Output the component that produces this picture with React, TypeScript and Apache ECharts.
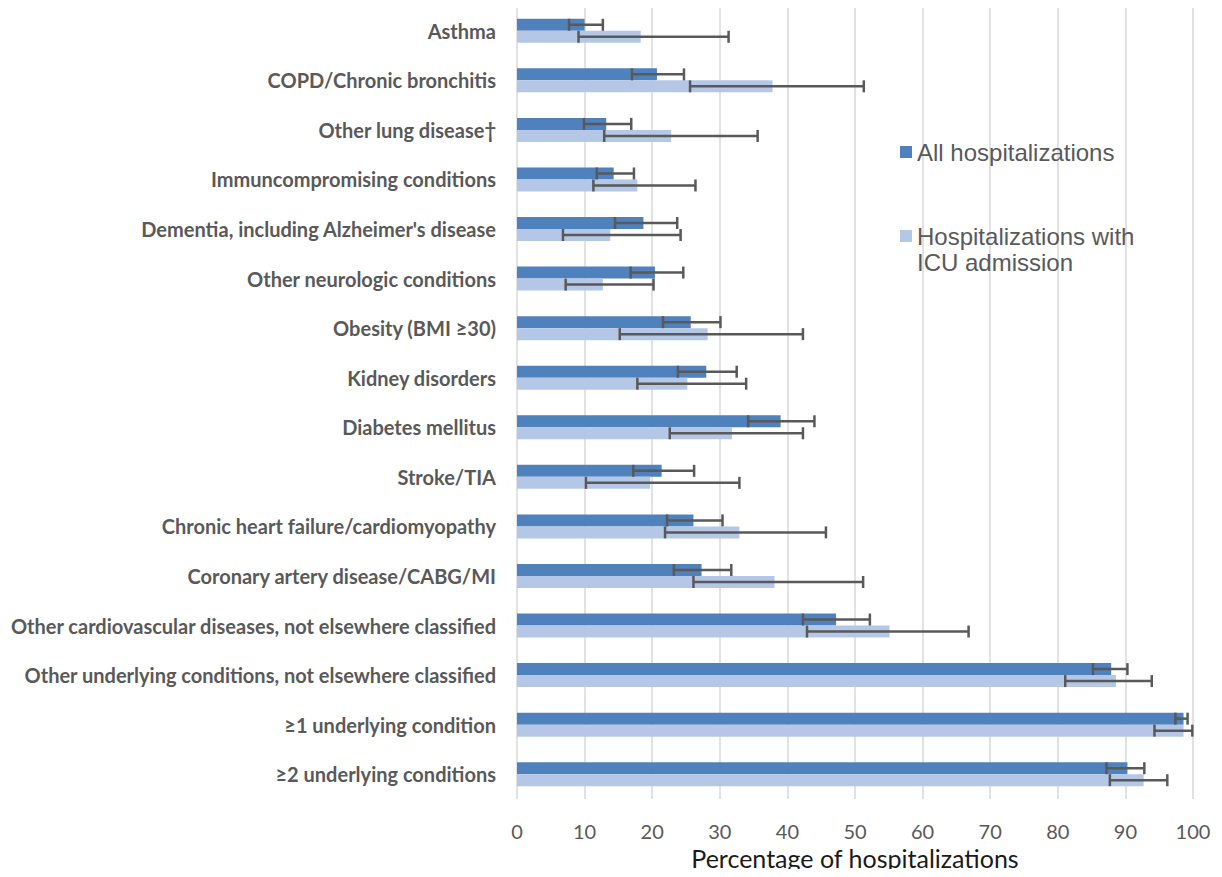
import React, { useEffect, useRef } from "react";
import * as echarts from "echarts";

const categories = [
  "Asthma",
  "COPD/Chronic bronchitis",
  "Other lung disease†",
  "Immuncompromising conditions",
  "Dementia, including Alzheimer's disease",
  "Other neurologic conditions",
  "Obesity (BMI ≥30)",
  "Kidney disorders",
  "Diabetes mellitus",
  "Stroke/TIA",
  "Chronic heart failure/cardiomyopathy",
  "Coronary artery disease/CABG/MI",
  "Other cardiovascular diseases, not elsewhere classified",
  "Other underlying conditions, not elsewhere classified",
  "≥1 underlying condition",
  "≥2 underlying conditions",
];

const allHosp = [10.0, 20.7, 13.2, 14.3, 18.7, 20.4, 25.7, 28.0, 39.0, 21.4, 26.1, 27.3, 47.2, 87.9, 98.6, 90.3];
const allLow = [7.7, 17.0, 9.9, 11.8, 14.5, 16.8, 21.6, 23.8, 34.2, 17.2, 22.2, 23.2, 42.3, 85.2, 97.4, 87.2];
const allHigh = [12.7, 24.7, 16.9, 17.3, 23.7, 24.6, 30.1, 32.5, 44.0, 26.2, 30.4, 31.7, 52.2, 90.3, 99.2, 92.8];

const icuHosp = [18.3, 37.8, 22.8, 17.8, 13.8, 12.7, 28.2, 25.2, 31.8, 19.7, 32.9, 38.1, 55.1, 88.6, 98.6, 92.7];
const icuLow = [9.1, 25.6, 12.9, 11.3, 6.8, 7.2, 15.2, 17.8, 22.6, 10.2, 21.9, 26.1, 42.9, 81.1, 94.3, 87.7];
const icuHigh = [31.3, 51.3, 35.6, 26.4, 24.2, 20.2, 42.3, 33.9, 42.3, 32.9, 45.7, 51.2, 66.8, 93.9, 99.9, 96.2];

const xTicks = [0, 10, 20, 30, 40, 50, 60, 70, 80, 90, 100];

const seriesNames = ["All hospitalizations", "Hospitalizations with ICU admission"];

const BAR_W = 12;
const ERR_COLOR = "#595959";

function errorSeries(low: number[], high: number[], offset: number) {
  return {
    type: "custom",
    silent: true,
    z: 10,
    encode: { x: [1, 2], y: 0 },
    data: low.map((l, i) => [i, l, high[i]]),
    renderItem: (params: any, api: any) => {
      const idx = api.value(0);
      const a = api.coord([api.value(1), idx]);
      const b = api.coord([api.value(2), idx]);
      const y = a[1] + offset;
      const h = BAR_W / 2;
      const style = { stroke: ERR_COLOR, lineWidth: 2.5 };
      return {
        type: "group",
        children: [
          { type: "line", shape: { x1: a[0], y1: y, x2: b[0], y2: y }, style },
          { type: "line", shape: { x1: a[0], y1: y - h, x2: a[0], y2: y + h }, style },
          { type: "line", shape: { x1: b[0], y1: y - h, x2: b[0], y2: y + h }, style },
        ],
      };
    },
  };
}

const legendText = {
  fontFamily: "Liberation Sans, Arial",
  fontSize: 24,
  color: "#595959",
  lineHeight: 26,
};

export default function App() {
  const ref = useRef<HTMLDivElement>(null);
  useEffect(() => {
    if (!ref.current) return;
    const chart = echarts.init(ref.current, undefined, { renderer: "svg" });
    chart.setOption({
      animation: false,
      backgroundColor: "#ffffff",
      grid: {
        left: 509,
        right: 21,
        top: -2,
        bottom: 78,
        containLabel: false,
        outerBoundsMode: "none",
      },
      legend: [
        {
          data: [seriesNames[0]],
          orient: "vertical",
          left: 892,
          top: 131,
          padding: 0,
          itemWidth: 12,
          itemHeight: 12,
          icon: "rect",
          selectedMode: false,
          textStyle: legendText,
        },
        {
          data: [seriesNames[1]],
          orient: "vertical",
          left: 892,
          top: 189,
          padding: 0,
          itemWidth: 12,
          itemHeight: 12,
          icon: "rect",
          selectedMode: false,
          formatter: () => " \nHospitalizations with\nICU admission",
          textStyle: legendText,
        },
      ],
      xAxis: {
        type: "value",
        min: 0,
        max: 100,
        interval: 10,
        name: "Percentage of hospitalizations",
        nameLocation: "middle",
        nameGap: 44,
        nameTextStyle: { fontFamily: "Lato", fontSize: 25, color: "#1a1a1a" },
        axisLine: { show: false },
        axisTick: { show: false },
        axisLabel: {
          fontFamily: "Lato",
          fontSize: 20,
          color: "#595959",
          margin: 22,
          formatter: (v: number) => (xTicks.includes(v) ? String(v) : ""),
        },
        splitLine: { show: true, lineStyle: { color: "#d9d9d9", width: 1.5 } },
      },
      yAxis: {
        type: "category",
        data: categories,
        inverse: true,
        axisLine: { show: false },
        axisTick: { show: false },
        splitLine: { show: false },
        axisLabel: {
          fontFamily: "Lato",
          fontWeight: "bold",
          fontSize: 20,
          color: "#595959",
          margin: 21,
        },
      },
      series: [
        {
          name: seriesNames[0],
          type: "bar",
          data: allHosp,
          barWidth: BAR_W,
          barGap: "0%",
          itemStyle: { color: "#4f81bd" },
        },
        {
          name: seriesNames[1],
          type: "bar",
          data: icuHosp,
          barWidth: BAR_W,
          barGap: "0%",
          itemStyle: { color: "#b4c7e7" },
        },
        errorSeries(allLow, allHigh, -BAR_W / 2),
        errorSeries(icuLow, icuHigh, BAR_W / 2),
      ],
    });
    return () => chart.dispose();
  }, []);
  return <div ref={ref} style={{ width: 1206, height: 869, marginBottom: -8 }} />;
}
